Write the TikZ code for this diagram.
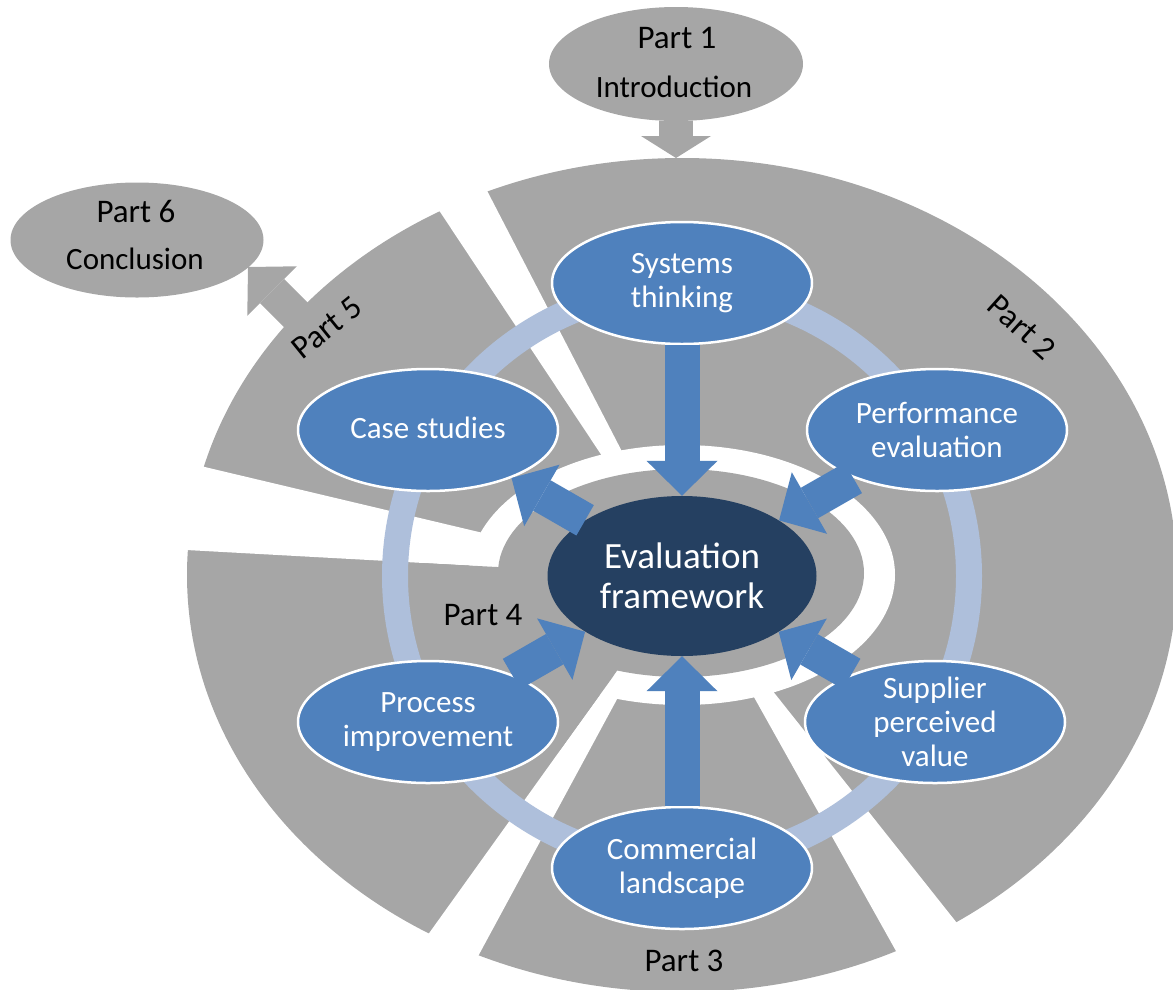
\documentclass[tikz,border=0pt]{standalone}
\usepackage{fontspec}
\setmainfont{Carlito}
\usetikzlibrary{arrows.meta,shapes.geometric}
\definecolor{grayC}{RGB}{166,166,166}
\definecolor{blueC}{RGB}{79,129,189}
\definecolor{navyC}{RGB}{37,64,97}
\definecolor{ringC}{RGB}{174,191,219}
\tikzset{
  blueell/.style={ellipse, fill=blueC, draw=white, line width=2.5pt, minimum width=260pt, minimum height=122pt, inner sep=0pt},
  bluetxt/.style={text=white, align=center, font=\fontsize{31}{34}\selectfont},
  parttxt/.style={text=black, inner sep=0pt, font=\fontsize{33}{36}\selectfont},
  subtxt/.style={text=black, inner sep=0pt, font=\fontsize{31}{34}\selectfont},
  grayell/.style={ellipse, fill=grayC, minimum width=254pt, minimum height=114pt, inner sep=0pt},
  blockarr/.style={draw=blueC, line width=35pt, -{Triangle[width=71pt, length=35pt, line width=0pt]}},
  grayarr/.style={draw=grayC, line width=34pt, -{Triangle[width=70pt, length=#1, line width=0pt]}},
}
\begin{document}
\begin{tikzpicture}[x=1pt,y=-1pt]
\useasboundingbox (0,0) rectangle (1173,989);
% gray sectors
\fill[grayC] (682,575) ellipse [x radius=495pt, y radius=417pt];
\fill[white] (682,575) ellipse [x radius=213pt, y radius=130pt];
\fill[grayC] (681,573) ellipse [x radius=183pt, y radius=104pt];
% white gaps between the parts
\fill[white] (399,150) -- (466,150) -- (629,465) -- (608,465) -- cycle;
\fill[white] (150,454) -- (500,537) -- (497,567) -- (150,548) -- cycle;
\fill[white] (374,1010) -- (612,678) -- (622,690) -- (449,1010) -- cycle;
\fill[white] (750,690) -- (768,685) -- (1026,1010) -- (929,1010) -- cycle;
% part 4 reaches the centre
\fill[grayC] (420,563) -- (497,567) -- (682,575) -- (612,678) -- (560,750) -- cycle;

% Part 1 and Part 6
\node[grayell] (p1) at (676,64) {};
\node[parttxt, anchor=base] (p1a) at (677,48) {Part 1};
\node[subtxt, anchor=base] (p1b) at (674,97) {Introduction};
\coordinate (p1tip) at (676,158);
\draw[grayarr=22pt] (p1) -- (p1tip);

\node[grayell, minimum width=253pt, minimum height=115pt] (p6) at (137,240) {};
\node[parttxt, anchor=base] (p6a) at (136,222) {Part 6};
\node[subtxt, anchor=base] (p6b) at (135,269) {Conclusion};
\coordinate (p6start) at (305,324);
\coordinate (p6tip) at (248,267);
\draw[grayarr=34pt] (p6start) -- (p6tip);

% light blue ring
\draw[ringC, line width=26pt] (682,576) circle [radius=287pt];

% nodes
\node[ellipse, fill=navyC, minimum width=269pt, minimum height=160pt, inner sep=0pt,
  label={[text=white, align=center, font=\fontsize{37}{40}\selectfont]center:Evaluation\\framework}] (ev) at (682,576) {};
\node[blueell, label={[bluetxt]center:Systems\\thinking}] (sys) at (682,283) {};
\node[blueell, label={[bluetxt]center:Performance\\evaluation}] (perf) at (937,430) {};
\node[blueell, label={[bluetxt]center:Supplier\\perceived\\value}] (sup) at (935,722) {};
\node[blueell, label={[bluetxt]center:Commercial\\landscape}] (com) at (682,868) {};
\node[blueell, label={[bluetxt]center:Process\\improvement}] (proc) at (428,722) {};
\node[blueell, label={[bluetxt, yshift=2pt]center:Case studies}] (case) at (428,430) {};

% block arrows
\draw[blockarr] (sys) -- (ev);
\draw[blockarr] (perf) -- (ev);
\draw[blockarr] (sup) -- (ev);
\draw[blockarr] (com) -- (ev);
\draw[blockarr] (proc) -- (ev);
\draw[blockarr] (ev) -- (case);

% part labels
\node[parttxt, rotate=-42] (l2) at (1022,327) {Part 2};
\node[parttxt, anchor=base] (l3) at (684,971) {Part 3};
\node[parttxt, anchor=base] (l4) at (483,625) {Part 4};
\node[parttxt, rotate=39] (l5) at (327,328) {Part 5};
\end{tikzpicture}
\end{document}
